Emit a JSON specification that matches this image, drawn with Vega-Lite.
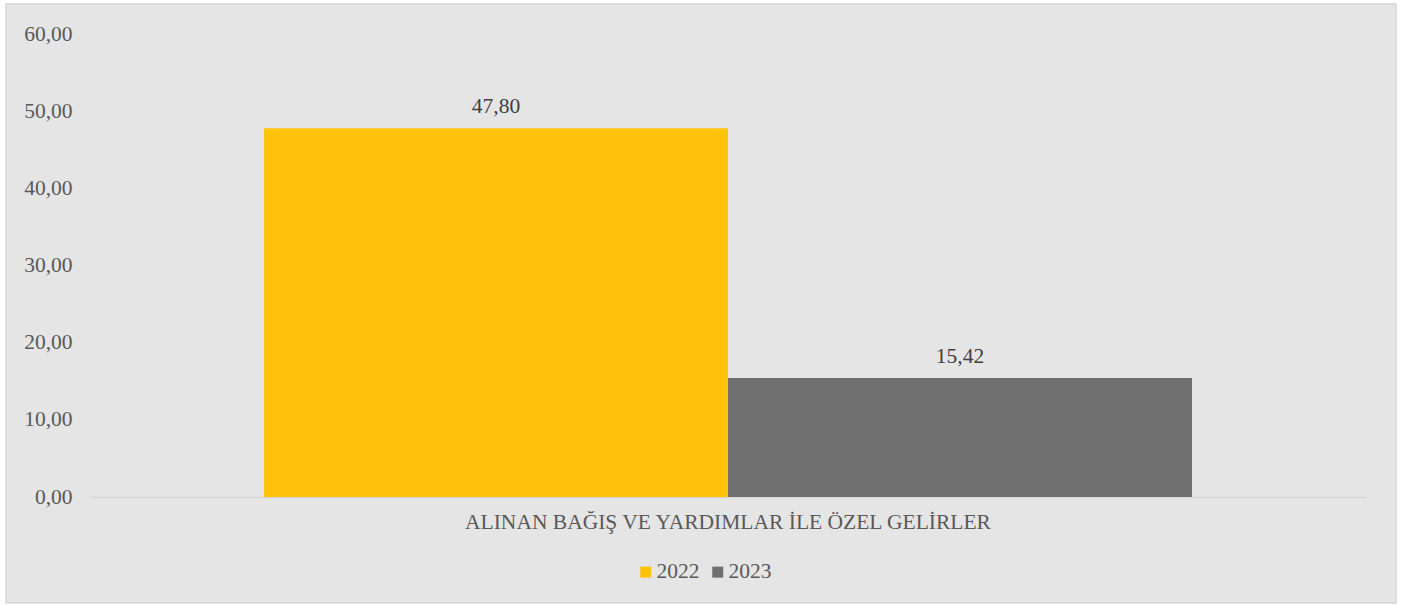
{
  "$schema": "https://vega.github.io/schema/vega-lite/v6.json",
  "width": 1390,
  "height": 599,
  "autosize": {"type": "none"},
  "padding": {"left": 6, "top": 4, "right": 17, "bottom": 2},
  "background": "white",
  "config": {
    "locale": {"number": {"decimal": ",", "thousands": ".", "grouping": [3], "currency": ["", " TL"]}},
    "view": {"fill": "#e5e5e5", "stroke": "#d6d6d6", "strokeWidth": 1.5},
    "font": "Liberation Serif",
    "axis": {"labelFont": "Liberation Serif", "labelColor": "#595959", "labelFontSize": 21.5, "title": null},
    "legend": {"labelFont": "Liberation Serif", "labelColor": "#595959", "labelFontSize": 21.5}
  },
  "data": {
    "values": [
      {"kategori": "ALINAN BAĞIŞ VE YARDIMLAR İLE ÖZEL GELİRLER", "yil": "2022", "deger": 47.80},
      {"kategori": "ALINAN BAĞIŞ VE YARDIMLAR İLE ÖZEL GELİRLER", "yil": "2023", "deger": 15.42}
    ]
  },
  "encoding": {
    "x": {
      "field": "kategori", "type": "nominal",
      "scale": {"range": [84, 1360], "paddingInner": 0, "paddingOuter": 0.1875},
      "axis": {"orient": "bottom", "offset": -106, "labelAngle": 0, "ticks": false, "domainColor": "#d6d6d6", "domainWidth": 1.5, "labelPadding": 14, "labelLimit": 1000}
    },
    "xOffset": {"field": "yil", "type": "nominal", "scale": {"paddingInner": 0, "paddingOuter": 0}},
    "y": {
      "field": "deger", "type": "quantitative",
      "scale": {"domain": [0, 60], "range": [493, 30], "nice": false},
      "axis": {"values": [0, 10, 20, 30, 40, 50, 60], "format": ".2f", "grid": false, "domain": false, "ticks": false, "tickSize": 0, "labelPadding": 0, "offset": -66}
    }
  },
  "layer": [
    {
      "mark": {"type": "bar"},
      "encoding": {
        "color": {
          "field": "yil", "type": "nominal",
          "scale": {"domain": ["2022", "2023"], "range": ["#ffc20a", "#6f6f6f"]},
          "legend": {"title": null, "orient": "none", "direction": "horizontal", "legendX": 629, "legendY": 557, "padding": 0, "symbolType": "square", "symbolSize": 121, "symbolStrokeWidth": 0, "labelOffset": 0, "columnPadding": 7}
        }
      }
    },
    {
      "mark": {"type": "text", "baseline": "alphabetic", "dy": -15, "fontSize": 21.5, "color": "#404040", "font": "Liberation Serif"},
      "encoding": {
        "text": {"field": "deger", "type": "quantitative", "format": ".2f"}
      }
    }
  ]
}
